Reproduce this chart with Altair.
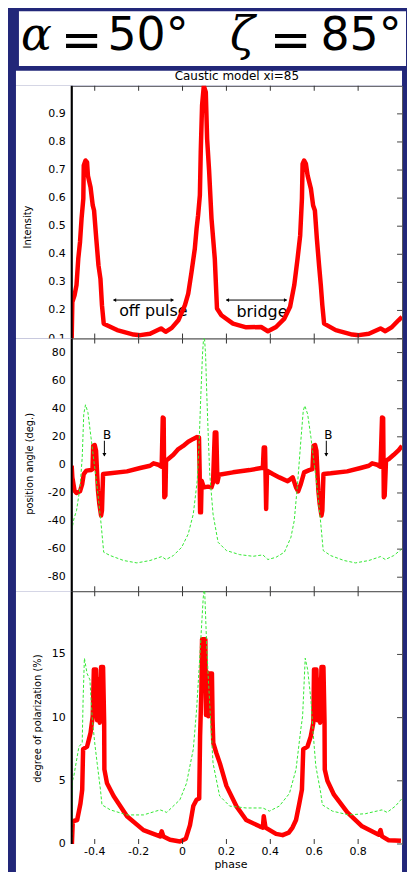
import altair as alt
import pandas as pd

# ---------------- data ----------------
# (phase, intensity)
intensity = [
    (-0.505, 0.10), (-0.502, 0.23), (-0.492, 0.254), (-0.483, 0.29), (-0.475, 0.384),
    (-0.467, 0.444), (-0.460, 0.527), (-0.452, 0.598), (-0.450, 0.716), (-0.442, 0.734),
    (-0.435, 0.728), (-0.431, 0.68), (-0.419, 0.639), (-0.409, 0.574), (-0.403, 0.556),
    (-0.393, 0.456), (-0.383, 0.361), (-0.374, 0.313), (-0.367, 0.218), (-0.359, 0.153),
    (-0.298, 0.130), (-0.223, 0.114), (-0.193, 0.112), (-0.148, 0.117), (-0.098, 0.136),
    (-0.077, 0.124), (-0.049, 0.138), (-0.019, 0.165), (0.011, 0.219), (0.026, 0.26),
    (0.041, 0.337), (0.056, 0.42), (0.064, 0.491), (0.071, 0.539), (0.079, 0.61),
    (0.083, 0.764), (0.089, 0.93), (0.097, 1.0), (0.106, 0.977), (0.112, 0.811),
    (0.121, 0.699), (0.132, 0.527), (0.147, 0.384), (0.157, 0.207), (0.177, 0.183),
    (0.230, 0.153), (0.290, 0.140), (0.358, 0.141), (0.389, 0.126), (0.426, 0.141),
    (0.464, 0.171), (0.490, 0.213), (0.509, 0.29), (0.524, 0.384), (0.536, 0.467),
    (0.544, 0.598), (0.547, 0.722), (0.554, 0.734), (0.562, 0.722), (0.570, 0.68),
    (0.585, 0.633), (0.595, 0.574), (0.603, 0.556), (0.612, 0.456), (0.622, 0.361),
    (0.630, 0.29), (0.637, 0.218), (0.645, 0.153), (0.698, 0.130), (0.773, 0.114),
    (0.803, 0.112), (0.849, 0.117), (0.902, 0.136), (0.924, 0.126), (0.954, 0.141),
    (0.984, 0.165), (1.0, 0.177),
]

# (phase, position angle) - caustic model (red)
pa_model = [
    (-0.505, -0.6), (-0.502, -8.9), (-0.492, -18.4), (-0.483, -20.0), (-0.467, -18.8),
    (-0.457, -13.6), (-0.450, -6.5), (-0.438, -4.1), (-0.417, -3.7), (-0.410, -3.0),
    (-0.407, 13.6), (-0.400, 14.1), (-0.394, 10.1), (-0.389, -6.5), (-0.385, -18.4),
    (-0.379, -27.8), (-0.371, -36.1), (-0.367, -32.6), (-0.362, -6.5), (-0.329, -6.0),
    (-0.253, -4.6), (-0.193, -2.2), (-0.148, -0.6), (-0.132, 1.1), (-0.110, 0.1),
    (-0.095, -1.3), (-0.090, 33.8), (-0.086, 33.3), (-0.083, -23.1), (-0.078, -21.9),
    (-0.075, 3.0), (-0.065, 4.2), (-0.042, 7.2), (-0.019, 11.3), (0.003, 13.5),
    (0.026, 16.5), (0.049, 18.5), (0.066, 19.8), (0.075, 19.5), (0.078, -5.0),
    (0.080, -33.8), (0.084, -33.8), (0.087, -11.3), (0.097, -16.0), (0.116, -15.5),
    (0.132, -16.0), (0.139, -12.4), (0.147, 23.1), (0.154, 23.1), (0.159, -12.4),
    (0.166, -7.0), (0.230, -5.3), (0.305, -3.7), (0.358, -2.2), (0.366, -2.2),
    (0.370, 12.4), (0.376, 12.4), (0.381, -31.4), (0.385, -4.1), (0.411, -6.5),
    (0.441, -8.9), (0.479, -11.7), (0.502, -8.9), (0.517, -16.0), (0.527, -18.8),
    (0.539, -13.6), (0.554, -5.3), (0.577, -3.7), (0.592, -3.0), (0.597, 13.6),
    (0.604, 14.1), (0.610, 10.1), (0.615, -6.5), (0.619, -18.4), (0.625, -27.8),
    (0.633, -36.1), (0.637, -32.6), (0.642, -6.5), (0.675, -6.0), (0.750, -4.6),
    (0.811, -2.2), (0.849, -0.6), (0.864, 1.1), (0.887, 0.1), (0.902, -1.3),
    (0.909, 33.8), (0.914, 33.3), (0.917, -23.1), (0.921, -21.9), (0.927, 3.0),
    (0.940, 4.2), (0.962, 7.2), (0.985, 10.6), (1.0, 13.6),
]

# (phase, position angle) - dashed green curve
pa_ref = [
    (-0.505, -46.8), (-0.495, -38.5), (-0.483, -32.6), (-0.467, -16.0), (-0.457, 5.3),
    (-0.450, 36.2), (-0.442, 42.8), (-0.431, 37.3), (-0.417, 19.6), (-0.402, 0.6),
    (-0.387, -18.4), (-0.371, -42.1), (-0.359, -62.2), (-0.329, -64.6), (-0.268, -68.1),
    (-0.208, -69.8), (-0.148, -68.1), (-0.095, -65.3), (-0.075, -67.4), (-0.042, -64.6),
    (-0.004, -58.7), (0.026, -49.2), (0.049, -35.0), (0.067, -11.3), (0.076, 17.2),
    (0.083, 48.0), (0.091, 78.8), (0.098, 95.0), (0.105, 78.8), (0.111, 48.0),
    (0.118, 17.2), (0.124, -6.5), (0.139, -35.0), (0.162, -55.1), (0.200, -61.0),
    (0.260, -63.9), (0.321, -65.1), (0.366, -64.1), (0.389, -67.4), (0.426, -65.8),
    (0.464, -62.2), (0.494, -51.5), (0.509, -39.7), (0.524, -13.6), (0.539, 17.2),
    (0.550, 38.5), (0.557, 42.1), (0.570, 36.2), (0.585, 19.6), (0.600, 0.6),
    (0.615, -18.4), (0.630, -42.1), (0.641, -61.0), (0.675, -64.6), (0.736, -68.1),
    (0.788, -69.8), (0.849, -68.1), (0.902, -65.3), (0.924, -67.4), (0.962, -64.6),
    (1.0, -59.8),
]

# (phase, degree of polarization %) - caustic model (red)
dop_model = [
    (-0.504, 0.0), (-0.500, 1.8), (-0.480, 1.9), (-0.465, 3.2), (-0.457, 4.3),
    (-0.453, 7.5), (-0.435, 7.7), (-0.419, 8.8), (-0.409, 10.1), (-0.404, 13.8),
    (-0.394, 13.8), (-0.389, 9.8), (-0.383, 13.0), (-0.377, 9.6), (-0.371, 14.0),
    (-0.362, 14.0), (-0.357, 9.6), (-0.356, 5.9), (-0.344, 4.8), (-0.314, 3.8),
    (-0.253, 2.2), (-0.178, 1.1), (-0.102, 0.6), (-0.095, 1.0), (-0.087, 0.6),
    (-0.057, 0.34), (-0.012, 0.2), (0.015, 0.42), (0.034, 1.5), (0.049, 3.0),
    (0.064, 3.5), (0.076, 3.6), (0.080, 8.5), (0.086, 12.2), (0.089, 16.2),
    (0.104, 16.2), (0.107, 10.2), (0.111, 13.6), (0.118, 10.1), (0.121, 13.5),
    (0.134, 13.5), (0.137, 9.8), (0.140, 8.0), (0.154, 7.2), (0.170, 6.4),
    (0.200, 4.6), (0.245, 3.0), (0.290, 1.9), (0.351, 1.4), (0.366, 1.3),
    (0.370, 2.2), (0.378, 1.3), (0.426, 0.8), (0.456, 0.7), (0.484, 0.9),
    (0.501, 1.3), (0.517, 1.9), (0.532, 3.2), (0.544, 4.3), (0.550, 7.5),
    (0.569, 7.7), (0.584, 8.5), (0.596, 9.6), (0.599, 13.8), (0.610, 13.8),
    (0.615, 9.8), (0.621, 13.0), (0.627, 9.6), (0.633, 14.0), (0.642, 14.0),
    (0.647, 9.6), (0.648, 5.9), (0.660, 5.0), (0.690, 3.9), (0.751, 2.5),
    (0.818, 1.4), (0.894, 0.74), (0.902, 1.1), (0.909, 0.6), (0.939, 0.3),
    (0.995, 0.26),
]

# (phase, degree of polarization %) - dashed green curve
dop_ref = [
    (-0.504, 0.3), (-0.501, 5.0), (-0.495, 5.4), (-0.472, 7.7), (-0.457, 8.0),
    (-0.453, 11.4), (-0.447, 14.7), (-0.435, 13.5), (-0.422, 13.0), (-0.412, 10.1),
    (-0.400, 8.0), (-0.389, 6.4), (-0.374, 4.3), (-0.367, 3.1), (-0.329, 2.7),
    (-0.253, 2.3), (-0.178, 2.3), (-0.102, 2.7), (-0.072, 2.5), (-0.012, 3.5),
    (0.018, 4.8), (0.049, 7.5), (0.064, 10.6), (0.079, 14.9), (0.094, 19.4),
    (0.100, 20.5), (0.109, 16.2), (0.117, 13.3), (0.132, 8.5), (0.139, 6.4),
    (0.169, 3.8), (0.215, 3.0), (0.290, 2.85), (0.366, 2.85), (0.396, 2.6),
    (0.441, 3.0), (0.487, 4.0), (0.517, 5.9), (0.539, 9.1), (0.547, 10.1),
    (0.559, 14.7), (0.570, 13.8), (0.585, 11.4), (0.595, 8.8), (0.607, 6.2),
    (0.630, 4.0), (0.637, 3.1), (0.683, 2.6), (0.758, 2.3), (0.834, 2.4),
    (0.909, 2.7), (0.932, 2.5), (0.970, 3.0), (1.0, 3.6),
]

phase_ticks = [-0.4, -0.2, 0.0, 0.2, 0.4, 0.6, 0.8]
phase_labels = ["-0.4", "-0.2", "0", "0.2", "0.4", "0.6", "0.8"]
int_ticks = [0.1, 0.2, 0.3, 0.4, 0.5, 0.6, 0.7, 0.8, 0.9]
int_labels = ["0.1", "0.2", "0.3", "0.4", "0.5", "0.6", "0.7", "0.8", "0.9"]
pa_ticks = [-80, -60, -40, -20, 0, 20, 40, 60, 80]
pa_labels = ["-80", "-60", "-40", "-20", "0", "20", "40", "60", "80"]
dop_ticks = [0, 5, 10, 15]
dop_labels = ["0", "5", "10", "15"]

region_labels = ["off pulse", "bridge"]
region_start = [-0.314, 0.200]
region_end = [-0.042, 0.474]
region_arrow_y = [0.237, 0.237]
region_label_x = [-0.133, 0.362]
region_label_y = [0.181, 0.178]

b_labels = ["B", "B"]
b_label_x = [-0.344, 0.664]
b_label_y = [21.5, 21.5]
b_arrow_x = [-0.356, 0.655]
b_arrow_top = [17.2, 17.2]
b_arrow_tip = [6.5, 6.5]

# ---------------- styling ----------------
W, H = 332, 254
XDOM = [-0.505, 1.0]
NAVY = "#222779"
RED = "#ff0000"
GREEN = "#33e833"
FRAME = "#555555"
SANS = "DejaVu Sans"
NARROW = "Liberation Sans Narrow, DejaVu Sans Condensed, Liberation Sans, sans-serif"

XSCALE = alt.Scale(domain=XDOM, nice=False, zero=False)
ONE = alt.Data(values=[{}])


def series(pairs):
    return pd.DataFrame({
        "phase": [p for p, v in pairs],
        "val": [v for p, v in pairs],
        "i": list(range(len(pairs))),
    })


def box(x1, x2, y1, y2, color="white"):
    return alt.Chart(ONE).mark_rect(color=color).encode(
        x=alt.value(x1), x2=alt.value(x2), y=alt.value(y1), y2=alt.value(y2))


def red_curve(pairs, yscale, width):
    return alt.Chart(series(pairs)).mark_line(
        color=RED, strokeWidth=width, clip=True, strokeJoin="round").encode(
        x=alt.X("phase:Q", scale=XSCALE, axis=None),
        y=alt.Y("val:Q", scale=yscale, axis=None),
        order=alt.Order("i:Q"))


def green_curve(pairs, yscale):
    return alt.Chart(series(pairs)).mark_line(
        color=GREEN, strokeWidth=1, strokeDash=[3, 2], clip=True).encode(
        x=alt.X("phase:Q", scale=XSCALE, axis=None),
        y=alt.Y("val:Q", scale=yscale, axis=None),
        order=alt.Order("i:Q"))


def frame_parts(yscale, yvals, ylabels, ytitle, tx, ty):
    xt = alt.Chart(pd.DataFrame({"phase": phase_ticks}))
    top = xt.mark_rule(color="#333333", strokeWidth=1).encode(
        x=alt.X("phase:Q", scale=XSCALE, axis=None), y=alt.value(0), y2=alt.value(5))
    bot = xt.mark_rule(color="#333333", strokeWidth=1).encode(
        x=alt.X("phase:Q", scale=XSCALE, axis=None), y=alt.value(H - 5), y2=alt.value(H))
    ydf = alt.Chart(pd.DataFrame({"val": yvals, "label": ylabels}))
    right = ydf.mark_rule(color="#444444", strokeWidth=1).encode(
        y=alt.Y("val:Q", scale=yscale, axis=None), x=alt.value(W - 5), x2=alt.value(W))
    labels = ydf.mark_text(font=SANS, fontSize=11, color="black", align="right",
                           baseline="middle").encode(
        y=alt.Y("val:Q", scale=yscale, axis=None), x=alt.value(-6), text="label:N")
    title = alt.Chart(ONE).mark_text(text=ytitle, font=NARROW, fontSize=11, angle=270,
                                     color="black", align="center",
                                     baseline="middle").encode(
        x=alt.value(tx), y=alt.value(ty))
    spine = alt.Chart(ONE).mark_rule(color="black", strokeWidth=2).encode(
        x=alt.value(0), y=alt.value(0), y2=alt.value(H))
    return [top, bot, right, labels, title, spine]


def header_text(txt, x, y=-36, size=46, font=SANS, italic=False):
    kw = dict(text=txt, font=font, fontSize=size, align="left",
              baseline="alphabetic", color="black")
    if italic:
        kw["fontStyle"] = "italic"
    return alt.Chart(ONE).mark_text(**kw).encode(x=alt.value(x), y=alt.value(y))


# ---------------- panel 1: intensity ----------------
y1 = alt.Scale(domain=[0.1, 1.0], nice=False, zero=False)
reg = pd.DataFrame({"x1": region_start, "x2": region_end, "y": region_arrow_y,
                    "lx": region_label_x, "ly": region_label_y, "label": region_labels})
reg_rule = alt.Chart(reg).mark_rule(color="black", strokeWidth=1).encode(
    x=alt.X("x1:Q", scale=XSCALE, axis=None), x2="x2:Q",
    y=alt.Y("y:Q", scale=y1, axis=None))
reg_left = alt.Chart(reg).mark_point(shape="triangle-left", filled=True, size=14,
                                     color="black", opacity=1, xOffset=1).encode(
    x=alt.X("x1:Q", scale=XSCALE, axis=None), y=alt.Y("y:Q", scale=y1, axis=None))
reg_right = alt.Chart(reg).mark_point(shape="triangle-right", filled=True, size=14,
                                      color="black", opacity=1, xOffset=-1).encode(
    x=alt.X("x2:Q", scale=XSCALE, axis=None), y=alt.Y("y:Q", scale=y1, axis=None))
reg_text = alt.Chart(reg).mark_text(font=SANS, fontSize=16, color="black",
                                    baseline="alphabetic", align="center").encode(
    x=alt.X("lx:Q", scale=XSCALE, axis=None), y=alt.Y("ly:Q", scale=y1, axis=None),
    text="label:N")

title_txt = alt.Chart(ONE).mark_text(text="Caustic model xi=85", font=SANS, fontSize=12,
                                     color="black", align="center",
                                     baseline="alphabetic").encode(
    x=alt.value(W / 2), y=alt.value(-6))

p1 = alt.layer(
    box(-56, W, -15, 0), box(-56, 0, 0, H),
    box(-53, 336, -75, -20),
    header_text("\u03b1", -51, font="DejaVu Serif", italic=True),
    header_text("=", -11, y=-29, size=50),
    header_text("50\u00b0", 36),
    header_text("\u03b6", 159, font="DejaVu Serif", italic=True),
    header_text("=", 199, y=-29, size=50),
    header_text("85\u00b0", 250),
    title_txt,
    reg_rule, reg_left, reg_right, reg_text,
    red_curve(intensity, y1, 4.5),
    *frame_parts(y1, int_ticks, int_labels, "Intensity", -44, 142),
).properties(width=W, height=H)

# ---------------- panel 2: position angle ----------------
y2 = alt.Scale(domain=[-90, 90], nice=False, zero=False)
bdf = pd.DataFrame({"bx": b_label_x, "by": b_label_y, "label": b_labels,
                    "ax": b_arrow_x, "atop": b_arrow_top, "atip": b_arrow_tip})
b_text = alt.Chart(bdf).mark_text(font=SANS, fontSize=12, color="black",
                                  baseline="middle", align="center").encode(
    x=alt.X("bx:Q", scale=XSCALE, axis=None), y=alt.Y("by:Q", scale=y2, axis=None),
    text="label:N")
b_rule = alt.Chart(bdf).mark_rule(color="black", strokeWidth=1).encode(
    x=alt.X("ax:Q", scale=XSCALE, axis=None),
    y=alt.Y("atop:Q", scale=y2, axis=None), y2="atip:Q")
b_head = alt.Chart(bdf).mark_point(shape="triangle-down", filled=True, size=16,
                                   color="black", opacity=1, yOffset=-1).encode(
    x=alt.X("ax:Q", scale=XSCALE, axis=None), y=alt.Y("atip:Q", scale=y2, axis=None))

p2 = alt.layer(
    box(-56, 0, 0, H),
    b_text, b_rule, b_head,
    red_curve(pa_model, y2, 4.5),
    green_curve(pa_ref, y2),
    *frame_parts(y2, pa_ticks, pa_labels, "position angle (deg.)", -42, 126),
).properties(width=W, height=H)

# ---------------- panel 3: degree of polarization ----------------
y3 = alt.Scale(domain=[0, 20], nice=False, zero=False)
xlab = alt.Chart(pd.DataFrame({"phase": phase_ticks, "label": phase_labels})).mark_text(
    font=SANS, fontSize=11, color="black", align="center", baseline="top").encode(
    x=alt.X("phase:Q", scale=XSCALE, axis=None), y=alt.value(H + 2), text="label:N")
xtitle = alt.Chart(ONE).mark_text(text="phase", font=SANS, fontSize=11, color="black",
                                  align="center", baseline="alphabetic").encode(
    x=alt.value(160), y=alt.value(H + 24))

p3 = alt.layer(
    box(-56, 0, 0, H), box(-56, W, H, H + 32),
    red_curve(dop_model, y3, 4.5),
    green_curve(dop_ref, y3),
    xlab, xtitle,
    *frame_parts(y3, dop_ticks, dop_labels, "degree of polarization (%)", -34, 128),
).properties(width=W, height=H)

chart = alt.vconcat(p1, p2, p3, spacing=0, bounds="flush").properties(
    background=NAVY,
    padding={"left": 7, "top": 0, "right": 0, "bottom": 0},
).configure_view(stroke=FRAME, strokeWidth=1, fill="white")

chart.save("out.html", embed_options={"renderer": "svg", "actions": False})
